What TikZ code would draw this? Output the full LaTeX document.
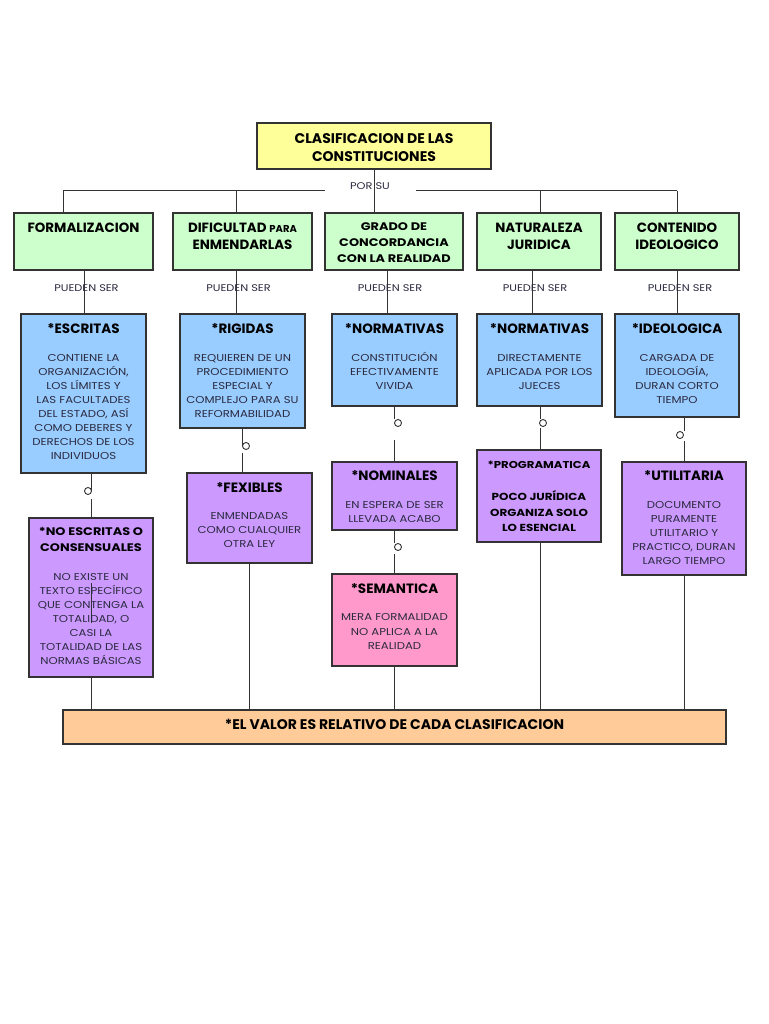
\documentclass[tikz,border=0pt]{standalone}
\usepackage{fontspec}
\setmainfont{Poppins}
\newfontfamily\wf{Poppins}[FakeStretch=1.17]
\usetikzlibrary{calc}
\definecolor{ylw}{HTML}{FFFF99}
\definecolor{grn}{HTML}{CCFFCC}
\definecolor{blu}{HTML}{99CCFF}
\definecolor{pur}{HTML}{CC99FF}
\definecolor{pnk}{HTML}{FF99CC}
\definecolor{org}{HTML}{FFCC99}
\definecolor{edgec}{HTML}{333333}
\definecolor{bodytx}{HTML}{2B2B40}
\newcommand\bx[6]{%
  \node[box, fill=#6, minimum width={#4-#2}, minimum height={#5-#3}] (#1) at ({(#2+#4)/2},{(#3+#5)/2}) {};}
\newcommand\hs{\rule{0pt}{12pt}}
\newcommand\bs{\rule{0pt}{11pt}}
\tikzset{
  box/.style={draw=edgec, line width=1.1pt, inner sep=0pt, outer sep=0pt},
  head/.style={font=\bfseries\fontsize{13.5}{16}\selectfont, align=center, anchor=north, inner sep=0pt, text=black},
  body/.style={font=\wf\fontsize{10}{14}\selectfont, align=center, anchor=north, inner sep=0pt, text=bodytx},
  small/.style={font=\wf\fontsize{9.7}{10}\selectfont, anchor=base, inner sep=0pt, text=bodytx},
  conn/.style={draw=edgec, line width=1pt},
  ring/.style={circle, draw=edgec, line width=0.9pt, minimum size=7pt, inner sep=0pt},
}
\begin{document}
\begin{tikzpicture}[x=1pt, y=-1pt]
\useasboundingbox (0,0) rectangle (768,1024);
\fill[white] (0,0) rectangle (768,1024);

% ---------- lane coordinates ----------
\coordinate (busL) at (63,191);
\coordinate (busB) at (236,191);
\coordinate (busM1) at (325,191);
\coordinate (busM2) at (416,191);
\coordinate (busD) at (540,191);
\coordinate (busE) at (677,191);
\coordinate (laA) at (84,0);   \coordinate (laA2) at (91,0);
\coordinate (laB) at (236,0);  \coordinate (laB2) at (242,0); \coordinate (laB3) at (249,0);
\coordinate (laC) at (387,0);  \coordinate (laC2) at (394,0);
\coordinate (laD) at (532,0);  \coordinate (laD2) at (540,0);
\coordinate (laE) at (677,0);  \coordinate (laE2) at (684,0);

% ---------- boxes ----------
\bx{title}{257}{123}{491}{169}{ylw}
\bx{form}{14}{213}{153}{270}{grn}
\bx{dific}{173}{213}{312}{270}{grn}
\bx{grado}{325}{213}{463}{270}{grn}
\bx{nat}{477}{213}{601}{270}{grn}
\bx{cont}{615}{213}{739}{270}{grn}

\bx{esc}{21}{314}{146}{473}{blu}
\bx{rig}{180}{314}{305}{428}{blu}
\bx{norm1}{332}{314}{457}{406}{blu}
\bx{norm2}{477}{314}{602}{406}{blu}
\bx{ideo}{615}{314}{739}{417}{blu}

\bx{noesc}{29}{518}{153}{677}{pur}
\bx{fex}{187}{473}{312}{563}{pur}
\bx{nom}{332}{462}{457}{530}{pur}
\bx{sem}{332}{574}{457}{666}{pnk}
\bx{prog}{477}{450}{601}{542}{pur}
\bx{util}{622}{462}{746}{575}{pur}

\bx{valor}{63}{710}{726}{744}{org}

% ---------- rings ----------
\node[ring] (r1) at (88,491) {};
\node[ring] (r2) at (246,446) {};
\node[ring] (r3) at (398,423) {};
\node[ring] (r4) at (398,547) {};
\node[ring] (r5) at (543,423) {};
\node[ring] (r6) at (680,435) {};

% ---------- connectors ----------
\begin{scope}[conn]
% title to categories
\draw (busL) -- (busM1);
\draw (busM2) -- (busE);
\draw (busL) -- (busL |- form.north);
\draw (busB) -- (busB |- dific.north);
\draw (busD) -- (busD |- nat.north);
\draw (busE) -- (busE |- cont.north);
\draw (title.south) -- (title.south |- grado.north);
% categories to first types
\draw (laA |- form.south) -- (laA |- esc.north);
\draw (laB |- dific.south) -- (laB |- rig.north);
\draw (laC |- grado.south) -- (laC |- norm1.north);
\draw (laD |- nat.south) -- (laD |- norm2.north);
\draw (laE |- cont.south) -- (laE |- ideo.north);

\draw (laA2 |- esc.south) -- (laA2 |- r1.center);
\draw (laA2 |- r1.south) ++(0,4) -- (laA2 |- noesc.north);
\coordinate (ns1) at (91,583); \coordinate (ns2) at (91,623);
\draw (ns1) -- (ns2);
\draw (laA2 |- noesc.south) -- (laA2 |- valor.north);

\draw (laB2 |- rig.south) -- (laB2 |- r2.center);
\draw (laB2 |- r2.south) ++(0,3) -- (laB2 |- fex.north) ++(0,-7);
\draw (laB3 |- fex.south) -- (laB3 |- valor.north);

\draw (laC2 |- norm1.south) -- (laC2 |- r3.north) ++(0,-4);
\draw (laC2 |- r3.south) ++(0,13) -- (laC2 |- nom.north);
\draw (laC2 |- nom.south) -- (laC2 |- r4.north) ++(0,-3);
\draw (laC2 |- r4.south) ++(0,3) -- (laC2 |- sem.north) ++(0,-6);
\draw (laC2 |- sem.south) -- (laC2 |- valor.north);

\draw (laD2 |- norm2.south) -- (laD2 |- r5.north) ++(0,-3);
\draw (laD2 |- r5.south) ++(0,1) -- (laD2 |- prog.north) ++(0,-6);
\draw (laD2 |- prog.south) -- (laD2 |- valor.north);

\draw (laE2 |- ideo.south) -- (laE2 |- r6.north) ++(0,-3);
\draw (laE2 |- r6.south) ++(0,2) -- (laE2 |- util.north) ++(0,-7);
\draw (laE2 |- util.south) -- (laE2 |- valor.north);
\end{scope}

% ---------- texts ----------
\node[head, font=\bfseries\fontsize{14}{18}\selectfont] (title-t) at (374,131.5) {\hs CLASIFICACION DE LAS\\CONSTITUCIONES};

\node[small] (porsu) at (370,189.5) {POR SU};
\node[small] (ps1) at (86.5,291.5) {PUEDEN SER};
\node[small] (ps2) at (238.5,291.5) {PUEDEN SER};
\node[small] (ps3) at (390,291.5) {PUEDEN SER};
\node[small] (ps4) at (535,291.5) {PUEDEN SER};
\node[small] (ps5) at (680,291.5) {PUEDEN SER};

\node[head, font=\bfseries\fontsize{13.4}{17}\selectfont] (form-t) at (83.5,220.5) {\hs FORMALIZACION};
\node[head, font=\bfseries\fontsize{13.4}{17}\selectfont] (dific-t) at (242.5,220.5) {\hs DIFICULTAD {\fontsize{10}{10}\selectfont PARA}\\ENMENDARLAS};
\node[head, font=\wf\bfseries\fontsize{11}{16}\selectfont] (grado-t) at (394,218) {\hs GRADO DE\\CONCORDANCIA\\CON LA REALIDAD};
\node[head, font=\bfseries\fontsize{13.4}{17}\selectfont] (nat-t) at (539,220.5) {\hs NATURALEZA\\JURIDICA};
\node[head, font=\bfseries\fontsize{13.4}{17}\selectfont] (cont-t) at (677,220.5) {\hs CONTENIDO\\IDEOLOGICO};

% blue
\node[head] (esc-h) at (83.5,321) {\hs *ESCRITAS};
\node[body] (esc-b) at (83.5,350.5) {\bs CONTIENE LA\\ORGANIZACIÓN,\\LOS LÍMITES Y\\LAS FACULTADES\\DEL ESTADO, ASÍ\\COMO DEBERES Y\\DERECHOS DE LOS\\INDIVIDUOS};
\node[head] (rig-h) at (242.5,321) {\hs *RIGIDAS};
\node[body] (rig-b) at (242.5,350.5) {\bs REQUIEREN DE UN\\PROCEDIMIENTO\\ESPECIAL Y\\COMPLEJO PARA SU\\REFORMABILIDAD};
\node[head] (norm1-h) at (394.5,321) {\hs *NORMATIVAS};
\node[body] (norm1-b) at (394.5,350.5) {\bs CONSTITUCIÓN\\EFECTIVAMENTE\\VIVIDA};
\node[head] (norm2-h) at (539.5,321) {\hs *NORMATIVAS};
\node[body] (norm2-b) at (539.5,350.5) {\bs DIRECTAMENTE\\APLICADA POR LOS\\JUECES};
\node[head] (ideo-h) at (677,321) {\hs *IDEOLOGICA};
\node[body] (ideo-b) at (677,350.5) {\bs CARGADA DE\\IDEOLOGÍA,\\DURAN CORTO\\TIEMPO};

% purple / pink
\node[head, font=\wf\bfseries\fontsize{11}{16}\selectfont] (noesc-h) at (91,523) {\hs *NO ESCRITAS O\\CONSENSUALES};
\node[body] (noesc-b) at (91,569) {\bs NO EXISTE UN\\TEXTO ESPECÍFICO\\QUE CONTENGA LA\\TOTALIDAD, O\\CASI LA\\TOTALIDAD DE LAS\\NORMAS BÁSICAS};
\node[head] (fex-h) at (249.5,480.5) {\hs *FEXIBLES};
\node[body] (fex-b) at (249.5,508.5) {\bs ENMENDADAS\\COMO CUALQUIER\\OTRA LEY};
\node[head] (nom-h) at (394.5,468.5) {\hs *NOMINALES};
\node[body] (nom-b) at (394.5,497.5) {\bs EN ESPERA DE SER\\LLEVADA ACABO};
\node[head] (sem-h) at (394.5,581.5) {\hs *SEMANTICA};
\node[body, font=\wf\fontsize{10}{14.5}\selectfont] (sem-b) at (394.5,609.5) {\bs MERA FORMALIDAD\\NO APLICA A LA\\REALIDAD};
\node[head, font=\wf\bfseries\fontsize{10}{16}\selectfont] (prog-h) at (539,456.5) {\hs *PROGRAMATICA};
\node[body, font=\wf\bfseries\fontsize{10.2}{15.5}\selectfont, text=black] (prog-b) at (539,489.5) {\bs POCO JURÍDICA\\ORGANIZA SOLO\\LO ESENCIAL};
\node[head] (util-h) at (684,468.5) {\hs *UTILITARIA};
\node[body] (util-b) at (684,497.5) {\bs DOCUMENTO\\PURAMENTE\\UTILITARIO Y\\PRACTICO, DURAN\\LARGO TIEMPO};

\node[head, font=\bfseries\fontsize{14}{16}\selectfont] (valor-t) at (394.5,717) {\hs *EL VALOR ES RELATIVO DE CADA CLASIFICACION};
\end{tikzpicture}
\end{document}
